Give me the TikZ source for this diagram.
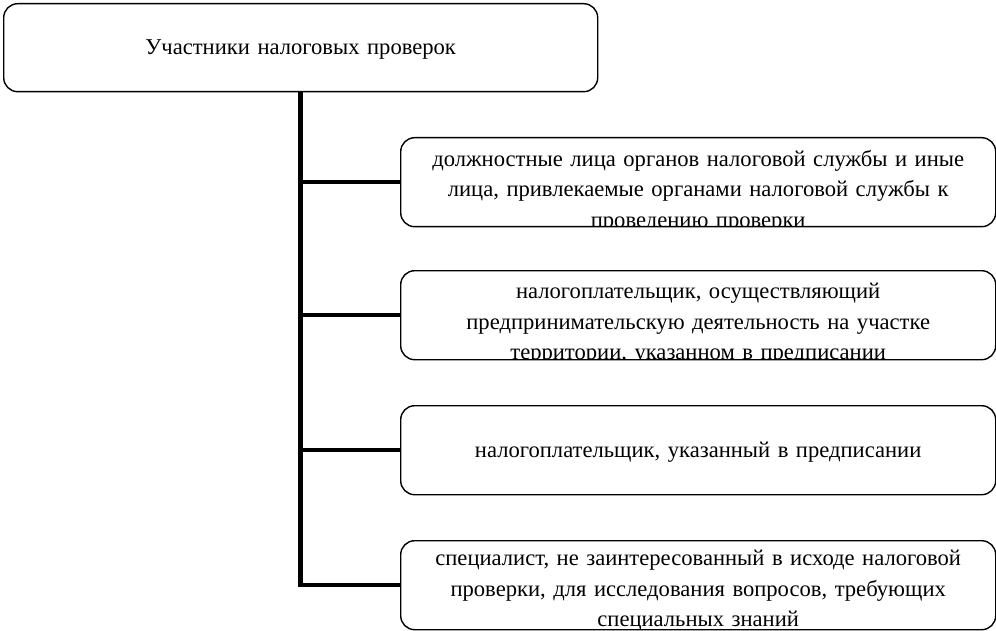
\documentclass[tikz,border=0pt]{standalone}
\usepackage{fontspec}
\setmainfont{Liberation Serif}
\begin{document}
\begin{tikzpicture}[x=1pt,y=-1pt,
 box/.style={draw, line width=1.4pt, rounded corners=14pt, minimum width=595pt, minimum height=89pt, inner sep=0pt, anchor=north west},
 conn/.style={line width=4.5pt},
 lbl/.style={font=\fontsize{22.6}{30.5}\selectfont, align=center, text width=590pt, inner sep=0pt}]
\useasboundingbox (0,0) rectangle (996,631);
\node[box, minimum width=594pt, minimum height=88pt] (top) at (3,3) {};
\node[lbl] (tt) at ([yshift=-2pt]top.center) {Участники налоговых проверок};
\node[box, path picture={\node[lbl, anchor=north] (t1) at ([yshift=-8pt]path picture bounding box.north) {должностные лица органов налоговой службы и иные\\лица, привлекаемые органами налоговой службы к\\проведению проверки};}] (b1) at (400,137) {};
\node[box, path picture={\node[lbl, anchor=north] (t2) at ([yshift=-8pt]path picture bounding box.north) {налогоплательщик, осуществляющий\\предпринимательскую деятельность на участке\\территории, указанном в предписании};}] (b2) at (400,270) {};
\node[box] (b3) at (400,405) {};
\node[lbl] (t3) at ([yshift=-2pt]b3.center) {налогоплательщик, указанный в предписании};
\node[box, path picture={\node[lbl, anchor=north] (t4) at ([yshift=-5pt]path picture bounding box.north) {специалист, не заинтересованный в исходе налоговой\\проверки, для исследования вопросов, требующих\\специальных знаний};}] (b4) at (400,540) {};
\draw[conn] (top.south) |- (b4.west);
\draw[conn] (top.south |- b1.west) -- (b1.west);
\draw[conn] (top.south |- b2.west) -- (b2.west);
\draw[conn] (top.south |- b3.west) -- (b3.west);
\end{tikzpicture}
\end{document}
